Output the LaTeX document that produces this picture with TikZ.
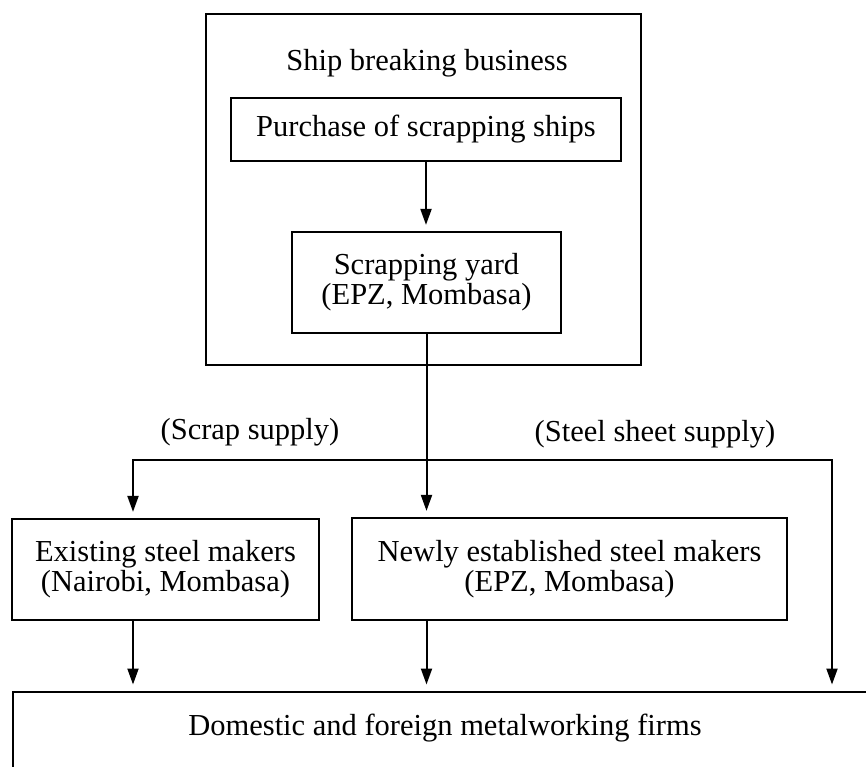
\documentclass[tikz,border=0pt]{standalone}
\usepackage{fontspec}
\setmainfont{Liberation Serif}
\usetikzlibrary{arrows.meta}
\tikzset{
  box/.style={draw, line width=2.2pt, inner sep=0pt, align=center},
  lbl/.style={inner sep=0pt, align=center},
  arr/.style={line width=2pt, line join=miter, -{Triangle[length=16pt,width=11pt]}, shorten >=6pt}
}
\begin{document}
\begin{tikzpicture}[x=1pt, y=-1pt, font=\fontsize{30.5}{30}\selectfont]
\useasboundingbox (0,0) rectangle (866,766);
\clip (0,0) rectangle (866,766);
% outer box
\node[box, minimum width=435pt, minimum height=351pt, anchor=north west] (outer) at (205,13) {};
\node[lbl] (title) at (427,63) {Ship breaking business};
\node[box, minimum width=390pt, minimum height=63pt] (purchase) at (426,129.5) {Purchase of scrapping ships};
\node[box, minimum width=269pt, minimum height=101pt] (yard) at (426.5,282.5) {Scrapping yard\\(EPZ, Mombasa)};
% lower boxes
\node[box, minimum width=307pt, minimum height=101pt] (exist) at (165.5,569.5) {Existing steel makers\\(Nairobi, Mombasa)};
\node[box, minimum width=435pt, minimum height=102pt] (newly) at (569.5,569) {Newly established steel makers\\(EPZ, Mombasa)};
\node[box, minimum width=900pt, minimum height=150pt, anchor=north west] (dom) at (12,690.5) {};
\node[lbl] (domtext) at (445,728) {Domestic and foreign metalworking firms};
% labels
\node[lbl] (scrap) at (250,432) {(Scrap supply)};
\node[lbl] (sheet) at (655,434) {(Steel sheet supply)};
% coordinates
\coordinate (lx) at (133,460);
\coordinate (rx) at (832,460);
% connectors
\draw[arr] (purchase.south) -- (purchase.south |- yard.north);
\draw[arr] (yard.south) -- (yard.south |- newly.north);
\draw[arr] (rx) -- (lx) -- (lx |- exist.north);
\draw[arr] (lx) -- (rx) -- (rx |- dom.north);
\draw[arr] (lx |- exist.south) -- (lx |- dom.north);
\draw[arr] (yard.south |- newly.south) -- (yard.south |- dom.north);
\end{tikzpicture}
\end{document}
